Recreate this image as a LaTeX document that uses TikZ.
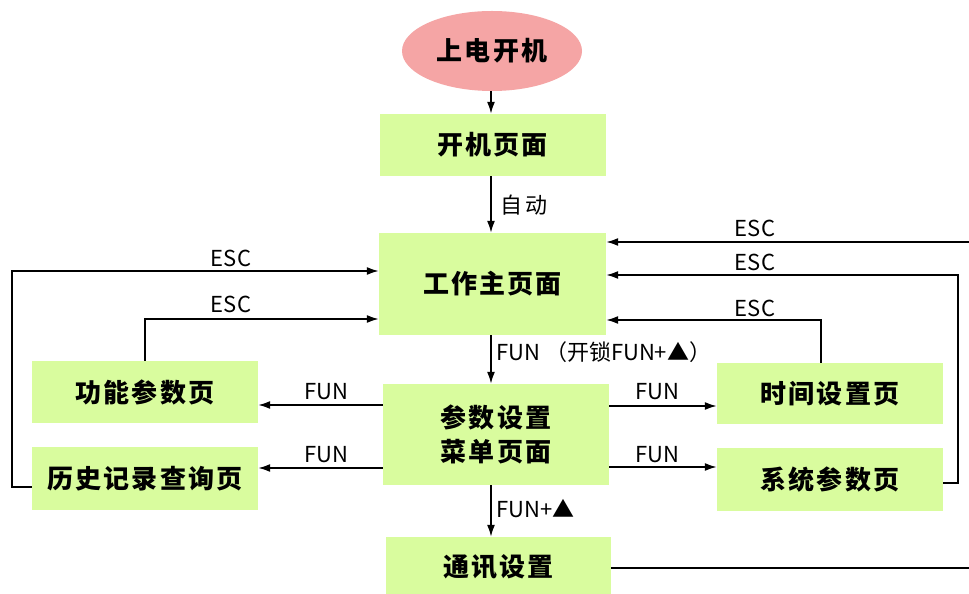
\documentclass[tikz,border=0pt]{standalone}
\usepackage{fontspec}
\setmainfont{Noto Sans CJK SC}
\usetikzlibrary{arrows.meta,shapes.geometric}
\definecolor{boxgreen}{RGB}{217,252,158}
\definecolor{ellpink}{RGB}{245,165,165}
\tikzset{
  box/.style={fill=boxgreen, draw=none, minimum width=226pt, minimum height=62pt,
    inner sep=0pt, align=center,
    font=\fontsize{26}{34}\selectfont\bfseries\addfontfeature{LetterSpace=8}},
  conn/.style={line width=1.7pt, -{Latex[length=12pt,width=8pt]}},
  lbl/.style={font=\fontsize{22}{24}\selectfont, inner sep=0pt},
}
\begin{document}
\begin{tikzpicture}[x=1pt,y=1pt]
\useasboundingbox (0,0) rectangle (969,594);
\fill[white] (0,0) rectangle (969,594);

% nodes
\node[ellipse, fill=ellpink, minimum width=180pt, minimum height=80pt, inner sep=0pt,
  font=\fontsize{26}{30}\selectfont\bfseries\addfontfeature{LetterSpace=8}] (start) at (492,543) {上电开机};
\node[box] (boot) at (492.5,449) {开机页面};
\node[box, minimum width=227pt, minimum height=102pt] (main) at (492.5,310) {工作主页面};
\node[box, minimum height=101pt] (menu) at (496,159.5) {参数设置\\菜单页面};
\node[box, minimum width=225pt, minimum height=60pt] (comm) at (498.5,27) {通讯设置};
\node[box] (func) at (145,202) {功能参数页};
\node[box, minimum height=63pt] (hist) at (145,115.5) {历史记录查询页};
\node[box, minimum height=61pt] (time) at (830,200.5) {时间设置页};
\node[box, minimum height=63pt] (sys) at (830,114.5) {系统参数页};

% vertical axis for the main column
\coordinate (ax) at (491,0);

% vertical arrows
\draw[conn] (start.south -| ax) -- (boot.north -| ax);
\draw[conn] (boot.south -| ax) -- (main.north -| ax);
\draw[conn] (main.south -| ax) -- (menu.north -| ax);
\draw[conn] (menu.south -| ax) -- (comm.north -| ax);

% horizontal FUN arrows
\draw[conn] (menu.west |- 0,189) -- (func.east |- 0,189);
\draw[conn] (menu.west |- 0,126) -- (hist.east |- 0,126);
\draw[conn] (menu.east |- 0,188) -- (time.west |- 0,188);
\draw[conn] (menu.east |- 0,127) -- (sys.west |- 0,127);

% left ESC loops
\coordinate (l1a) at (12,107);
\coordinate (l1b) at (12,323);
\draw[conn] (hist.west |- l1a) -- (l1a) -- (l1b) -- (main.west |- l1b);
\coordinate (l2) at (145,275);
\draw[conn] (func.north -| l2) -- (l2) -- (main.west |- l2);

% right ESC loops
\coordinate (r1a) at (980,26);
\coordinate (r1b) at (980,352);
\draw[conn] (comm.east |- r1a) -- (r1a) -- (r1b) -- (main.east |- r1b);
\coordinate (r2a) at (958,111);
\coordinate (r2b) at (958,319);
\draw[conn] (sys.east |- r2a) -- (r2a) -- (r2b) -- (main.east |- r2b);
\coordinate (r3) at (821,274);
\draw[conn] (time.north -| r3) -- (r3) -- (main.east |- r3);

% labels
\node[lbl, anchor=west] (lauto) at (500,389) {自\,动};
\node[lbl, anchor=west] (lfun) at (496,242) {FUN （开锁FUN+▲）};
\node[lbl, anchor=west] (lfunup) at (496,85) {FUN+▲};
\node[lbl] (lf1) at (326,202) {FUN};
\node[lbl] (lf2) at (326,139) {FUN};
\node[lbl] (lf3) at (657,202) {FUN};
\node[lbl] (lf4) at (657,139) {FUN};
\node[lbl] (le1) at (231,336) {ESC};
\node[lbl] (le2) at (231,290) {ESC};
\node[lbl] (le3) at (755,366) {ESC};
\node[lbl] (le4) at (755,332) {ESC};
\node[lbl] (le5) at (755,286) {ESC};
\end{tikzpicture}
\end{document}
